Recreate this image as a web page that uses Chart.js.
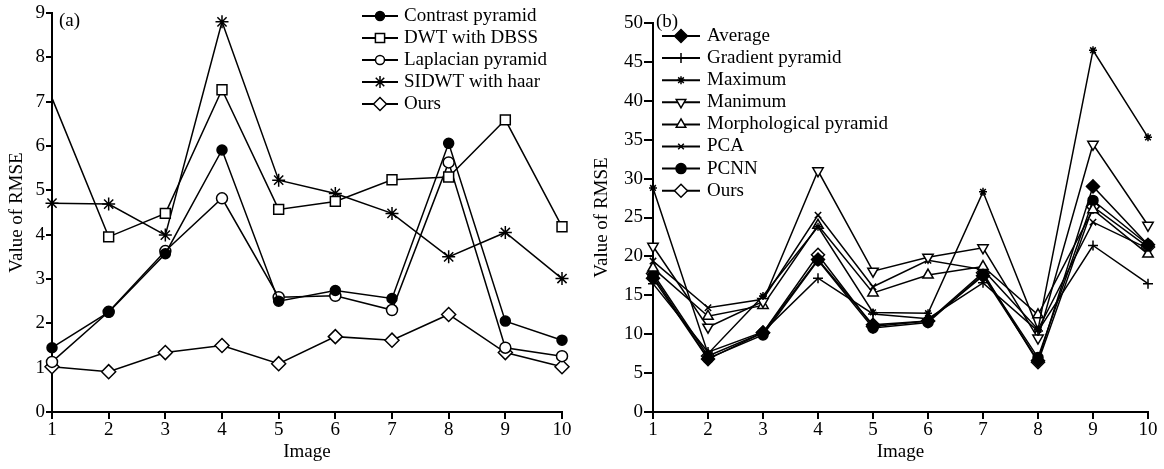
<!DOCTYPE html>
<html>
<head>
<meta charset="utf-8">
<script src="https://cdn.jsdelivr.net/npm/chart.js@4.4.1/dist/chart.umd.min.js"></script>
<style>
  html, body { margin: 0; padding: 0; background: #fff; }
  #wrap { position: relative; width: 1164px; height: 469px; }
  .box { position: absolute; top: 0; }
  #boxA { left: 0; }
  #boxB { left: 580px; }
</style>
</head>
<body>
<div id="wrap">
  <div class="box" id="boxA"><canvas id="chartA" width="580" height="469"></canvas></div>
  <div class="box" id="boxB"><canvas id="chartB" width="584" height="469"></canvas></div>
</div>
<script>
// x categories (image number)
var images = ['1', '2', '3', '4', '5', '6', '7', '8', '9', '10'];

// (a) RMSE values
var contrastPyramid = [1.45, 2.25, 3.57, 5.91, 2.50, 2.74, 2.56, 6.06, 2.05, 1.62];
var dwtDbss        = [7.08, 3.95, 4.48, 7.27, 4.57, 4.75, 5.24, 5.30, 6.59, 4.18];
var laplacian      = [1.13, 2.26, 3.63, 4.82, 2.59, 2.62, 2.30, 5.63, 1.45, 1.26];
var sidwtHaar      = [4.71, 4.69, 3.99, 8.80, 5.23, 4.93, 4.48, 3.50, 4.05, 3.01];
var oursA          = [1.02, 0.91, 1.34, 1.50, 1.09, 1.70, 1.62, 2.20, 1.34, 1.02];

// (b) RMSE values
var average    = [17.2, 6.8, 10.2, 19.6, 11.2, 11.7, 17.5, 6.6, 29.0, 21.5];
var gradient   = [16.5, 7.7, 10.3, 17.2, 12.6, 12.0, 16.6, 10.4, 21.4, 16.5];
var maximum    = [28.8, 7.5, 14.9, 23.8, 12.8, 12.7, 28.3, 10.6, 46.5, 35.3];
var manimum    = [21.3, 10.9, 14.2, 31.0, 18.1, 19.9, 21.1, 9.5, 34.4, 24.0];
var morphPyr   = [18.5, 12.3, 13.7, 24.0, 15.3, 17.6, 18.7, 12.5, 26.0, 20.3];
var pca        = [19.4, 13.4, 14.5, 25.3, 16.1, 19.5, 18.3, 10.6, 24.4, 21.0];
var pcnn       = [17.5, 6.9, 9.9, 19.5, 10.8, 11.5, 17.7, 7.0, 27.2, 21.5];
var oursB      = [17.8, 7.2, 10.2, 20.2, 11.0, 11.7, 17.9, 6.4, 26.4, 21.2];

var yTicksA = [0, 1, 2, 3, 4, 5, 6, 7, 8, 9];
var yTicksB = [0, 5, 10, 15, 20, 25, 30, 35, 40, 45, 50];

var serif = '"Liberation Serif", "Times New Roman", serif';
var fontSize = 19;
Chart.defaults.font.family = serif;
Chart.defaults.font.size = fontSize;
Chart.defaults.color = '#000';

// one line series, all black
function series(label, data, style, filled, radius, legendRadius, rotation) {
  return {
    label: label,
    data: data,
    borderColor: '#000',
    borderWidth: 1.5,
    pointStyle: style,
    pointRotation: rotation || 0,
    pointRadius: radius,
    pointBorderWidth: 1.5,
    pointBorderColor: '#000',
    pointBackgroundColor: filled ? '#000' : '#fff',
    legendRadius: legendRadius,
    tension: 0,
    fill: false,
    clip: false
  };
}

// legend drawn as line + marker + text, plus the panel tag
var lineLegend = {
  id: 'lineLegend',
  afterDraw: function(chart, args, opts) {
    var ctx = chart.ctx;
    ctx.save();
    ctx.font = fontSize + 'px ' + serif;
    ctx.textBaseline = 'middle';
    chart.data.datasets.forEach(function(ds, i) {
      var y = opts.y + i * opts.step;
      ctx.strokeStyle = '#000';
      ctx.lineWidth = 2;
      ctx.beginPath();
      ctx.moveTo(opts.x, y);
      ctx.lineTo(opts.x + opts.len, y);
      ctx.stroke();
      ctx.fillStyle = ds.pointBackgroundColor;
      ctx.lineWidth = ds.pointBorderWidth;
      Chart.helpers.drawPoint(ctx, {
        pointStyle: ds.pointStyle,
        rotation: ds.pointRotation,
        radius: ds.legendRadius,
        borderWidth: ds.pointBorderWidth
      }, opts.x + opts.len / 2, y);
      ctx.fillStyle = '#000';
      ctx.fillText(ds.label, opts.x + opts.len + opts.gap, y);
    });
    ctx.fillText(opts.tag, opts.tagX, opts.tagY);
    ctx.restore();
  }
};

function makeOptions(yMax, ticks, yWidth, pad, titleLeft, legend) {
  var tickFont = { family: serif, size: fontSize };
  return {
    responsive: false,
    animation: false,
    layout: { padding: pad },
    plugins: {
      legend: { display: false },
      tooltip: { enabled: false },
      lineLegend: legend
    },
    scales: {
      x: {
        type: 'category',
        offset: false,
        grid: { display: true, drawOnChartArea: false, drawTicks: true, tickLength: 7, color: '#000', lineWidth: 2 },
        border: { display: true, color: '#000', width: 2 },
        ticks: { color: '#000', font: tickFont, padding: 0, maxRotation: 0, autoSkip: false },
        title: { display: true, text: 'Image', color: '#000', font: tickFont, padding: { top: 0, bottom: 6 } },
        afterFit: function(s) { s.height = 57; }
      },
      y: {
        min: 0,
        max: yMax,
        afterBuildTicks: function(s) { s.ticks = ticks.map(function(v) { return { value: v }; }); },
        grid: { display: true, drawOnChartArea: false, drawTicks: true, tickLength: pad.tick, color: '#000', lineWidth: 2 },
        border: { display: true, color: '#000', width: 2 },
        ticks: { color: '#000', font: tickFont, padding: 1 },
        title: { display: true, text: 'Value of RMSE', color: '#000', font: tickFont, padding: { top: titleLeft, bottom: 0 } },
        afterFit: function(s) { s.width = yWidth; }
      }
    }
  };
}

new Chart(document.getElementById('chartA'), {
  type: 'line',
  data: {
    labels: images,
    datasets: [
      series('Contrast pyramid', contrastPyramid, 'circle', true, 5, 4.5),
      Object.assign(series('DWT with DBSS', dwtDbss, 'rect', false, 7, 6.5), { pointRadius: [0, 7, 7, 7, 7, 7, 7, 7, 7, 7] }),
      series('Laplacian pyramid', laplacian, 'circle', false, 5.5, 4.5),
      series('SIDWT with haar', sidwtHaar, 'star', false, 6.5, 6),
      series('Ours', oursA, 'rectRot', false, 7, 6.5)
    ]
  },
  options: makeOptions(9, yTicksA, 52, { left: 0, right: 18, top: 13, bottom: 0, tick: 6 }, 6,
    { x: 362, y: 16, step: 22, len: 36, gap: 6, tag: '(a)', tagX: 59, tagY: 21 }),
  plugins: [lineLegend]
});

new Chart(document.getElementById('chartB'), {
  type: 'line',
  data: {
    labels: images,
    datasets: [
      series('Average', average, 'rectRot', true, 6.5, 6.5),
      series('Gradient pyramid', gradient, 'cross', false, 5, 5),
      series('Maximum', maximum, 'star', true, 4, 4),
      series('Manimum', manimum, 'triangle', false, 6, 5.5, 180),
      series('Morphological pyramid', morphPyr, 'triangle', false, 6, 5.5),
      series('PCA', pca, 'crossRot', false, 4.5, 4),
      series('PCNN', pcnn, 'circle', true, 5, 5),
      series('Ours', oursB, 'rectRot', false, 6.5, 6.5)
    ]
  },
  options: makeOptions(50, yTicksB, 73, { left: 0, right: 16, top: 23, bottom: 0, tick: 9 }, 11,
    { x: 82, y: 36, step: 22.1, len: 38, gap: 7, tag: '(b)', tagX: 76, tagY: 22 }),
  plugins: [lineLegend]
});
</script>
</body>
</html>
